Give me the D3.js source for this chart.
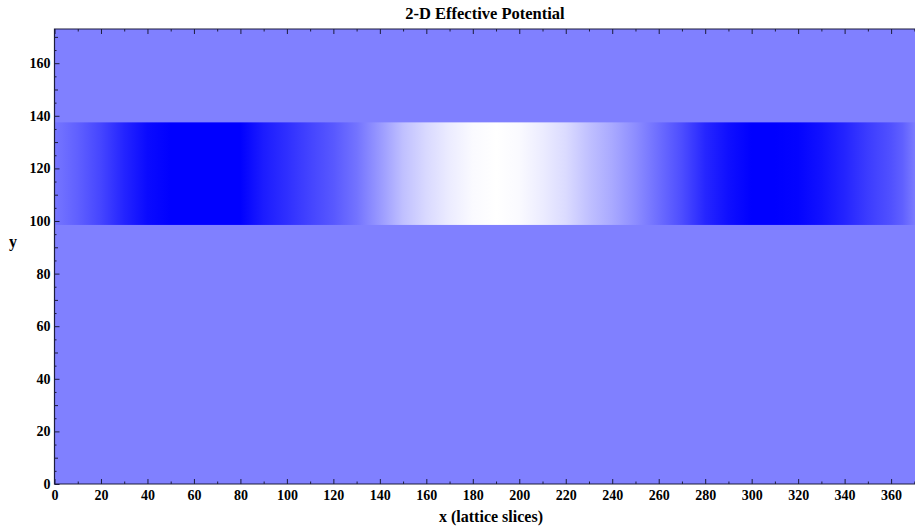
<!DOCTYPE html>
<html>
<head>
<meta charset="utf-8">
<script src="https://cdn.jsdelivr.net/npm/d3@7"></script>
<style>
  html, body { margin: 0; padding: 0; background: #fff; }
  svg { display: block; }
</style>
</head>
<body>
<svg id="chart" width="915" height="532"></svg>
<script>
// Lattice slice positions along x where the potential is sampled
const sliceX = [0, 10, 20, 30, 40, 50, 60, 70, 80, 90, 100, 110, 120, 130, 140, 150, 160, 170, 180,
                190, 200, 210, 220, 230, 240, 250, 260, 270, 280, 290, 300, 310, 320, 330, 340, 350, 360, 365, 370];
// Effective potential inside the channel (normalised, -1 = deep well, +1 = barrier)
const potential = [-0.08, -0.25, -0.46, -0.72, -0.92, -1, -1, -1, -1, -0.78, -0.63, -0.47, -0.31, -0.1, 0.2, 0.5, 0.7, 0.85, 0.96,
                   1, 0.96, 0.85, 0.72, 0.5, 0.32, 0.1, -0.15, -0.4, -0.7, -0.88, -1, -1, -0.97, -0.87, -0.72, -0.53, -0.37, -0.25, -0.05];
// Transverse extent of the channel (y range where the potential is non-zero)
const channelY = [98.5, 137.5];
const backgroundValue = 0;

const xDomain = [0, 370.5];
const yDomain = [0, 173];
const xTicks = d3.range(0, 361, 20);
const xMinor = d3.range(10, 371, 20);
const yTicks = d3.range(0, 161, 20);
const yMid = d3.range(10, 171, 20);
const yMinor = d3.range(5, 173, 10);

const title = "2-D Effective Potential";
const xLabel = "x (lattice slices)";
const yLabel = "y";

const svg = d3.select("#chart");
const margin = { left: 54.5, top: 29, bottom: 484, right: 915.5 };

const x = d3.scaleLinear().domain(xDomain).range([margin.left, margin.right]);
const y = d3.scaleLinear().domain(yDomain).range([margin.bottom, margin.top]);
const color = d3.scaleLinear().domain([-1, 0, 1]).range(["#0000ff", "#8080ff", "#ffffff"]).clamp(true);

// Horizontal gradient built from the sampled potential
const defs = svg.append("defs");
const grad = defs.append("linearGradient")
  .attr("id", "pot")
  .attr("gradientUnits", "userSpaceOnUse")
  .attr("x1", x(xDomain[0])).attr("x2", x(xDomain[1]))
  .attr("y1", 0).attr("y2", 0);
grad.selectAll("stop")
  .data(sliceX.map((d, i) => ({ x: d, v: potential[i] })))
  .join("stop")
  .attr("offset", d => (d.x - xDomain[0]) / (xDomain[1] - xDomain[0]))
  .attr("stop-color", d => color(d.v));

// Field outside the channel
svg.append("rect")
  .attr("x", x(xDomain[0])).attr("y", y(yDomain[1]))
  .attr("width", x(xDomain[1]) - x(xDomain[0]))
  .attr("height", y(yDomain[0]) - y(yDomain[1]))
  .attr("fill", color(backgroundValue));

// Channel region
svg.append("rect")
  .attr("x", x(xDomain[0])).attr("y", y(channelY[1]))
  .attr("width", x(xDomain[1]) - x(xDomain[0]))
  .attr("height", y(channelY[0]) - y(channelY[1]))
  .attr("fill", "url(#pot)");

const frameColor = "#1c1c3c";
const serif = "'Liberation Serif', 'Times New Roman', serif";

// Axes with inward ticks
function styleAxis(g) {
  g.attr("font-family", serif).attr("font-size", 14).attr("font-weight", "bold");
  g.select(".domain").remove();
  g.selectAll(".tick line").attr("stroke", frameColor).attr("stroke-width", 1);
  g.selectAll(".tick text").attr("fill", "#000");
}

svg.append("g").attr("transform", `translate(0,${y(0)})`)
  .call(d3.axisBottom(x).tickValues(xTicks).tickSize(-5).tickPadding(6).tickFormat(d3.format("d")))
  .call(styleAxis);
svg.append("g").attr("transform", `translate(0,${y(0)})`)
  .call(d3.axisBottom(x).tickValues(xMinor).tickSize(-2.5).tickFormat(""))
  .call(styleAxis);
svg.append("g").attr("transform", `translate(0,${y(yDomain[1])})`)
  .call(d3.axisTop(x).tickValues(xTicks).tickSize(-5).tickFormat(""))
  .call(styleAxis);
svg.append("g").attr("transform", `translate(0,${y(yDomain[1])})`)
  .call(d3.axisTop(x).tickValues(xMinor).tickSize(-2.5).tickFormat(""))
  .call(styleAxis);

svg.append("g").attr("transform", `translate(${x(0)},0)`)
  .call(d3.axisLeft(y).tickValues(yTicks).tickSize(-5).tickPadding(4).tickFormat(d3.format("d")))
  .call(styleAxis);
svg.append("g").attr("transform", `translate(${x(0)},0)`)
  .call(d3.axisLeft(y).tickValues(yMid).tickSize(-3.5).tickFormat(""))
  .call(styleAxis);
svg.append("g").attr("transform", `translate(${x(0)},0)`)
  .call(d3.axisLeft(y).tickValues(yMinor).tickSize(-2).tickFormat(""))
  .call(styleAxis);

// Frame
svg.append("path")
  .attr("d", `M${x(xDomain[1])},${y(yDomain[1])}H${x(0)}V${y(0)}H${x(xDomain[1])}`)
  .attr("fill", "none").attr("stroke", frameColor).attr("stroke-width", 1.2);

svg.append("text")
  .attr("x", (x(xDomain[0]) + x(xDomain[1])) / 2).attr("y", 19)
  .attr("text-anchor", "middle")
  .attr("font-family", serif).attr("font-weight", "bold").attr("font-size", 16.5)
  .text(title);

svg.append("text")
  .attr("x", (x(xDomain[0]) + x(xDomain[1])) / 2 + 6).attr("y", 522)
  .attr("text-anchor", "middle")
  .attr("font-family", serif).attr("font-weight", "bold").attr("font-size", 16)
  .text(xLabel);

svg.append("text")
  .attr("x", 13).attr("y", 247)
  .attr("text-anchor", "middle")
  .attr("font-family", serif).attr("font-weight", "bold").attr("font-size", 16)
  .text(yLabel);
</script>
</body>
</html>
